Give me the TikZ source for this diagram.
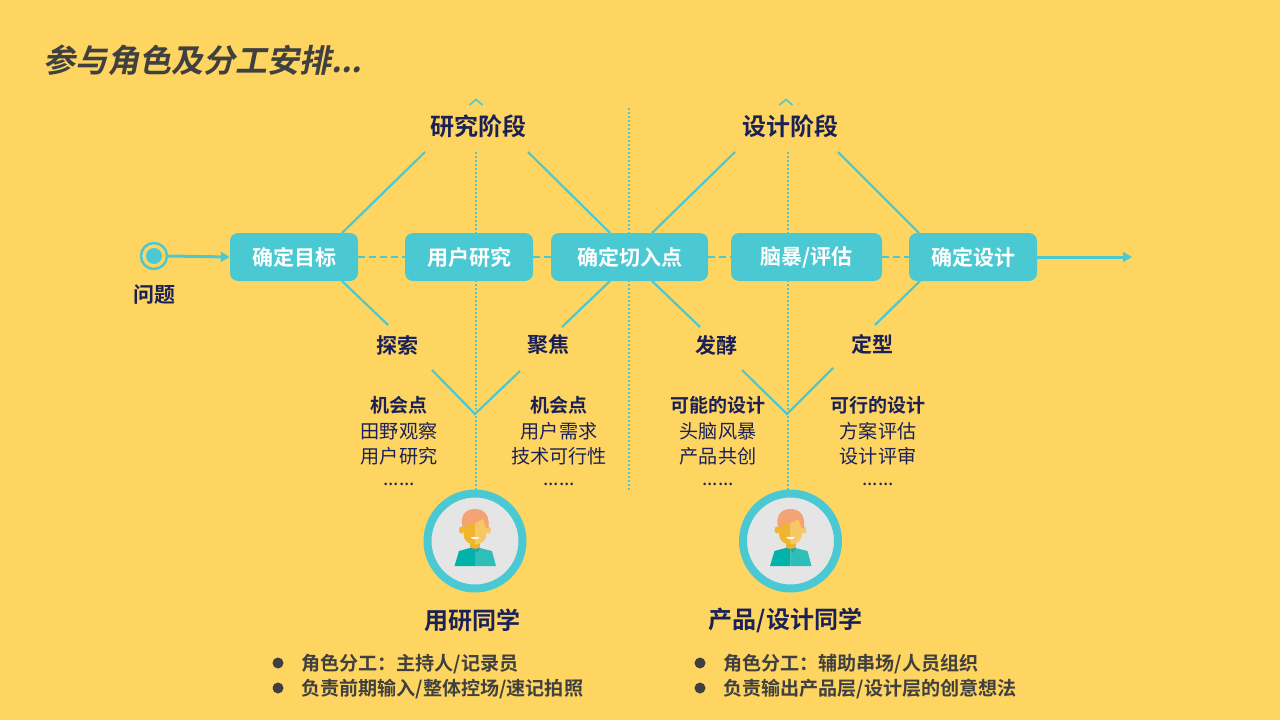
\documentclass[tikz,border=0pt]{standalone}
\usepackage{fontspec}
\setmainfont{Noto Sans CJK SC}[BoldFont={Noto Sans CJK SC Bold}]
\newfontfamily\titlefont[FakeSlant=0.2]{Noto Sans CJK SC Bold}
\usetikzlibrary{arrows.meta}
\definecolor{bgc}{HTML}{FED561}
\definecolor{teal1}{HTML}{4BC9D3}
\definecolor{navy}{HTML}{1A2157}
\definecolor{greyt}{HTML}{404040}
\newcommand{\fs}[1]{\fontsize{#1pt}{#1pt}\selectfont}
\tikzset{
  x=1pt,y=-1pt,
  stepbox/.style={fill=teal1,rounded corners=8pt,minimum height=48pt,inner sep=0pt,text=white,font=\fs{21}\bfseries},
  phase/.style={text=navy,font=\fs{24}\bfseries,inner sep=0pt},
  sub/.style={text=navy,font=\fs{21}\bfseries,inner sep=0pt},
  hd/.style={text=navy,font=\fs{19}\bfseries,inner sep=0pt},
  body/.style={text=navy,font=\fs{19.1},inner sep=0pt},
  bul/.style={text=greyt,font=\fs{19.08}\bfseries,inner sep=0pt,anchor=west},
  dotb/.style={circle,fill=greyt,minimum size=11pt,inner sep=0pt},
  sol/.style={draw=teal1,line width=2.2pt},
  dott/.style={draw=teal1,line width=2pt,dash pattern=on 2pt off 2pt},
  dash1/.style={draw=teal1,line width=2.2pt,dash pattern=on 7pt off 4pt},
  arr/.style={draw=teal1,line width=3pt,-{Triangle[length=9pt,width=10pt]}},
  pics/person/.style={code={
    \fill[white!90!black] (0,0) circle[radius=44];
    \draw[teal1,line width=8pt] (0,0) circle[radius=47.5];
    \fill[F00] (-5,1) rectangle (5,8);
    \fill[S1] (-20.5,25) -- (-16,10) -- (-5,7) -- (0,8) -- (0,25) -- cycle;
    \fill[S2] (21,25) -- (17,10) -- (5,7) -- (0,8) -- (0,25) -- cycle;
    \fill[S3] (-5,7) -- (0,8) -- (-2,12) -- cycle;
    \fill[S3] (5,7) -- (0,8) -- (2,12) -- cycle;
    \fill[F1] (-13.5,-11) ellipse[x radius=2.5,y radius=3.5];
    \fill[F2] (13.5,-11) ellipse[x radius=2.5,y radius=3.5];
    \fill[F1] (0,-24) -- (-11.5,-24) -- (-11.5,-7) .. controls (-11.5,-1) and (-7,3.5) .. (0,3.5) -- cycle;
    \fill[F2] (0,-24) -- (11.5,-24) -- (11.5,-7) .. controls (11.5,-1) and (7,3.5) .. (0,3.5) -- cycle;
    \fill[H1] (-12.5,-14) .. controls (-15,-25) and (-10,-32) .. (0,-32) .. controls (10,-32) and (15,-25) .. (13.5,-13) -- (11,-13) -- (8,-22) -- (0,-18) -- (-8,-17) -- (-10.5,-13) -- cycle;
    \fill[white] (-4.5,-4) -- (4.5,-4) .. controls (3,-1) and (-3,-1) .. (-4.5,-4) -- cycle;
  }}
}
\definecolor{F00}{HTML}{EFB02A}
\definecolor{F1}{HTML}{EFB52F}
\definecolor{F2}{HTML}{F6C765}
\definecolor{H1}{HTML}{F4A374}
\definecolor{S1}{HTML}{00B2A9}
\definecolor{S2}{HTML}{2FBFB8}
\definecolor{S3}{HTML}{1AA8A2}
\begin{document}
\begin{tikzpicture}
\fill[bgc] (0,0) rectangle (1280,720);
\useasboundingbox (0,0) rectangle (1280,720);

% free ends
\coordinate (ua1) at (425,152); \coordinate (ua2) at (528,152);
\coordinate (ub1) at (735,152); \coordinate (ub2) at (838,152);
\coordinate (la) at (388,325); \coordinate (lb) at (562,327);
\coordinate (lc) at (700,327); \coordinate (ld) at (875,325);
\coordinate (va) at (475,414); \coordinate (va1) at (432,370); \coordinate (va2) at (520,371);
\coordinate (vb) at (787,414); \coordinate (vb1) at (742,370); \coordinate (vb2) at (833,368);
\coordinate (ta) at (476,152); \coordinate (tb) at (788,152);
\coordinate (ma) at (629,108); \coordinate (mb) at (629,491);
\coordinate (pa) at (476,492); \coordinate (pb) at (788,492);
\coordinate (endp) at (1132,257);
\coordinate (ca) at (476,99.5); \coordinate (cb) at (786,99.5);

% dotted verticals
\draw[dott] (ta) -- (pa);
\draw[dott] (tb) -- (pb);
\draw[dott] (ma) -- (mb);

% carets
\draw[teal1,line width=1.6pt] ([xshift=-6.5pt,yshift=-5.5pt]ca) -- (ca) -- ([xshift=6.5pt,yshift=-5.5pt]ca);
\draw[teal1,line width=1.6pt] ([xshift=-6.5pt,yshift=-5.5pt]cb) -- (cb) -- ([xshift=6.5pt,yshift=-5.5pt]cb);

% boxes
\coordinate (bt1) at (342,233);\coordinate (bb1) at (342,281);
\coordinate (bt3a) at (610,233);\coordinate (bb3a) at (610,281);
\coordinate (bt3b) at (652,233);\coordinate (bb3b) at (652,281);
\coordinate (bt5) at (919,233);\coordinate (bb5) at (920,281);
\draw[sol] (bt1) -- (ua1);
\draw[sol] (ua2) -- (bt3a);
\draw[sol] (bt3b) -- (ub1);
\draw[sol] (ub2) -- (bt5);
\draw[sol] (bb1) -- (la);
\draw[sol] (bb3a) -- (lb);
\draw[sol] (bb3b) -- (lc);
\draw[sol] (bb5) -- (ld);
\draw[sol] (va1) -- (va) -- (va2);
\draw[sol] (vb1) -- (vb) -- (vb2);

\node[stepbox,minimum width=128pt] (b1) at (294,257) {确定目标};
\node[stepbox,minimum width=128pt] (b2) at (469,257) {用户研究};
\node[stepbox,minimum width=157pt] (b3) at (629.5,257) {确定切入点};
\node[stepbox,minimum width=151pt] (b4) at (806.5,257) {脑暴/评估};
\node[stepbox,minimum width=128pt] (b5) at (973,257) {确定设计};
\draw[dash1] (b1) -- (b2);
\draw[dash1] (b2) -- (b3);
\draw[dash1] (b3) -- (b4);
\draw[dash1] (b4) -- (b5);

% start
\node[circle,draw=teal1,line width=2.5pt,fill=bgc,minimum size=26pt,inner sep=0pt] (st) at (154,256) {};
\node[circle,fill=teal1,minimum size=16pt,inner sep=0pt] (sti) at (154,256) {};
\draw[arr] (st.east) -- (b1.west);
\draw[arr] (b5.east) -- (endp);

% title
\node[anchor=west,inner sep=0pt,text=greyt,font=\fs{32}\titlefont] (title) at (43,60) {参与角色及分工安排...};

\node[phase] (p1) at (478,126) {研究阶段};
\node[phase] (p2) at (790,126) {设计阶段};
\node[sub] (q) at (154,294.5) {问题};
\node[sub] (s1) at (397,345) {探索};
\node[sub] (s2) at (548,345) {聚焦};
\node[sub] (s3) at (716,345) {发酵};
\node[sub] (s4) at (872,344) {定型};

\node[hd] (h1) at (398.5,405) {机会点};
\node[body] (h1a) at (399,431) {田野观察};
\node[body] (h1b) at (399,456) {用户研究};
\node[body] (h1c) at (399,484) {......};
\node[hd] (h2) at (558.5,405) {机会点};
\node[body] (h2a) at (559,431) {用户需求};
\node[body] (h2b) at (559,456) {技术可行性};
\node[body] (h2c) at (559,484) {......};
\node[hd] (h3) at (717.5,405) {可能的设计};
\node[body] (h3a) at (718,431) {头脑风暴};
\node[body] (h3b) at (718,456) {产品共创};
\node[body] (h3c) at (718,484) {......};
\node[hd] (h4) at (877.5,405) {可行的设计};
\node[body] (h4a) at (878,431) {方案评估};
\node[body] (h4b) at (878,456) {设计评审};
\node[body] (h4c) at (878,484) {......};

\pic at (475,541) {person};
\pic at (790.5,541) {person};

\node[phase] (r1) at (472,620) {用研同学};
\node[phase] (r2) at (785.5,620) {产品/设计同学};

\node[dotb] (d1) at (278,663) {};
\node[dotb] (d2) at (278,688) {};
\node[dotb] (d3) at (700,663) {};
\node[dotb] (d4) at (700,688) {};
\node[bul] (t1) at (301,664) {角色分工：主持人/记录员};
\node[bul] (t2) at (301,689) {负责前期输入/整体控场/速记拍照};
\node[bul] (t3) at (723,664) {角色分工：辅助串场/人员组织};
\node[bul] (t4) at (723,689) {负责输出产品层/设计层的创意想法};
\end{tikzpicture}
\end{document}
